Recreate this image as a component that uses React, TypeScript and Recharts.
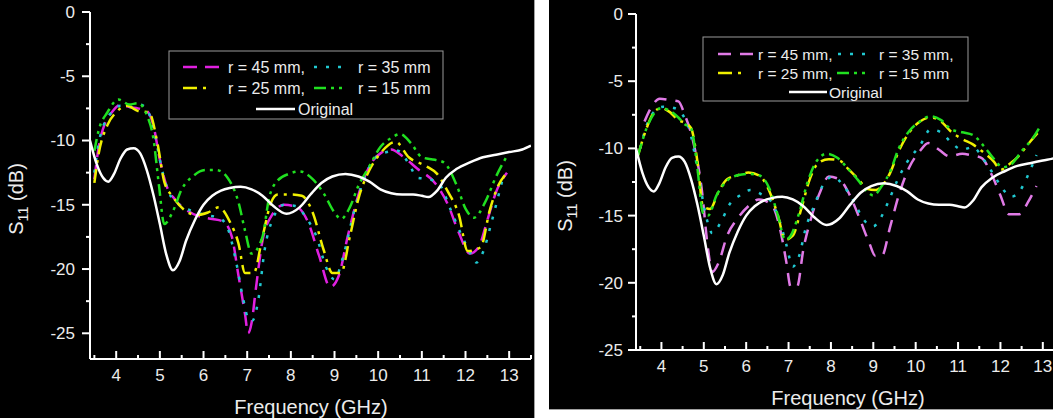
import React from 'react';
import { LineChart, Line, XAxis, YAxis } from 'recharts';

// ---------- shared data ----------
const origFreq = [3.4, 3.55, 3.7, 3.82, 3.95, 4.1, 4.25, 4.4, 4.55, 4.7, 4.85, 5.0, 5.15, 5.3, 5.45, 5.6, 5.8, 6.0, 6.2, 6.4, 6.6, 6.85, 7.1, 7.35, 7.6, 7.9, 8.2, 8.45, 8.7, 8.95, 9.25, 9.55, 9.8, 10.05, 10.3, 10.55, 10.8, 11.0, 11.15, 11.35, 11.55, 11.8, 12.1, 12.4, 12.7, 13.0, 13.3, 13.5];
const origVal = [-10.0, -11.8, -12.9, -13.2, -12.6, -11.4, -10.7, -10.6, -11.0, -12.3, -14.2, -16.5, -18.9, -20.1, -19.4, -17.8, -16.2, -15.0, -14.3, -13.9, -13.7, -13.6, -13.8, -14.3, -15.1, -15.7, -15.2, -14.2, -13.3, -12.8, -12.6, -12.8, -13.2, -13.8, -14.1, -14.2, -14.2, -14.3, -14.4, -13.9, -12.9, -12.2, -11.7, -11.3, -11.1, -10.9, -10.7, -10.4];

const xTicks = [3.5, 4, 4.5, 5, 5.5, 6, 6.5, 7, 7.5, 8, 8.5, 9, 9.5, 10, 10.5, 11, 11.5, 12, 12.5, 13, 13.5];
const yTicks = [0, -2.5, -5, -7.5, -10, -12.5, -15, -17.5, -20, -22.5, -25];

const seriesNames = ['r = 45 mm,', 'r = 35 mm', 'r = 25 mm,', 'r = 15 mm', 'Original'];
const seriesNamesRight = ['r = 45 mm,', 'r = 35 mm,', 'r = 25 mm,', 'r = 15 mm', 'Original'];
const xTitle = 'Frequency (GHz)';

// ---------- left panel data ----------
const L45Freq = [3.5, 3.6, 3.75, 3.9, 4.1, 4.3, 4.5, 4.7, 4.85, 5.0, 5.15, 5.35, 5.6, 5.9, 6.2, 6.45, 6.65, 6.8, 6.95, 7.02, 7.1, 7.2, 7.35, 7.55, 7.85, 8.15, 8.4, 8.65, 8.9, 9.1, 9.3, 9.55, 9.8, 10.05, 10.3, 10.55, 10.9, 11.3, 11.6, 11.85, 12.1, 12.3, 12.5, 12.7, 12.95];
const L45Val = [-13.0, -10.5, -8.6, -7.8, -7.2, -7.4, -7.5, -7.7, -8.8, -11.5, -13.5, -14.6, -15.4, -15.9, -16.1, -16.3, -17.5, -20.5, -23.5, -25.0, -24.2, -21.5, -17.8, -15.9, -15.0, -15.2, -16.4, -19.0, -21.4, -20.5, -17.5, -14.2, -12.0, -11.0, -10.7, -11.2, -12.2, -13.3, -15.0, -17.2, -18.8, -18.3, -16.2, -14.0, -12.5];

const L35Freq = [3.5, 3.6, 3.75, 3.9, 4.1, 4.3, 4.55, 4.75, 4.9, 5.05, 5.2, 5.45, 5.75, 6.05, 6.35, 6.55, 6.75, 6.9, 7.05, 7.12, 7.25, 7.4, 7.6, 7.85, 8.1, 8.35, 8.6, 8.8, 9.0, 9.2, 9.45, 9.7, 9.95, 10.2, 10.45, 10.7, 10.9, 11.15, 11.4, 11.65, 11.9, 12.1, 12.25, 12.4, 12.6, 12.85];
const L35Val = [-12.5, -10.2, -8.5, -7.8, -7.3, -7.4, -7.2, -7.9, -9.8, -12.3, -14.0, -15.0, -15.5, -15.8, -16.0, -16.8, -19.5, -22.2, -24.0, -24.0, -22.5, -18.5, -16.0, -15.0, -15.1, -16.0, -17.6, -19.8, -20.8, -19.0, -15.5, -12.8, -11.3, -10.9, -10.8, -11.8, -12.9, -13.0, -13.4, -15.3, -17.3, -18.7, -19.5, -18.7, -16.3, -13.0];

const L25Freq = [3.5, 3.6, 3.8, 4.0, 4.25, 4.5, 4.75, 4.95, 5.1, 5.3, 5.6, 5.85, 6.1, 6.35, 6.6, 6.8, 6.95, 7.15, 7.35, 7.55, 7.7, 8.0, 8.25, 8.5, 8.75, 8.95, 9.15, 9.35, 9.55, 9.8, 10.05, 10.4, 10.7, 11.1, 11.35, 11.6, 11.85, 12.05, 12.35, 12.55, 12.75, 12.9];
const L25Val = [-13.3, -11.0, -8.8, -7.8, -7.3, -7.7, -7.8, -10.3, -13.2, -14.4, -15.5, -15.8, -15.6, -15.2, -16.3, -18.0, -20.3, -20.3, -17.5, -14.8, -14.2, -14.2, -14.3, -15.6, -18.5, -20.3, -20.3, -17.5, -14.5, -12.3, -11.0, -10.1, -11.3, -12.0, -12.6, -14.0, -15.8, -18.6, -18.3, -15.5, -13.5, -12.7];

const L15Freq = [3.5, 3.6, 3.8, 4.05, 4.3, 4.5, 4.7, 4.85, 4.98, 5.1, 5.3, 5.5, 5.75, 6.05, 6.3, 6.55, 6.8, 6.95, 7.1, 7.35, 7.5, 7.7, 7.95, 8.2, 8.5, 8.75, 9.0, 9.15, 9.35, 9.55, 9.8, 10.05, 10.3, 10.5, 10.75, 11.0, 11.3, 11.5, 11.8, 12.0, 12.2, 12.45, 12.7, 12.95];
const L15Val = [-10.8, -9.2, -7.8, -6.8, -7.2, -7.1, -8.0, -9.8, -13.5, -16.5, -15.5, -13.8, -12.8, -12.3, -12.3, -12.9, -14.8, -17.0, -18.8, -17.5, -14.5, -13.1, -12.6, -12.4, -13.0, -14.1, -15.6, -16.1, -15.2, -13.5, -12.0, -10.5, -9.8, -9.5, -10.2, -11.3, -11.5, -11.7, -13.5, -15.3, -16.0, -14.8, -12.8, -11.2];

// ---------- right panel data ----------
const R45Freq = [3.6, 3.75, 3.96, 4.2, 4.4, 4.55, 4.75, 4.95, 5.1, 5.2, 5.35, 5.55, 5.8, 6.05, 6.3, 6.6, 6.8, 6.95, 7.05, 7.2, 7.35, 7.55, 7.75, 7.95, 8.2, 8.4, 8.65, 8.9, 9.05, 9.2, 9.4, 9.6, 9.85, 10.1, 10.3, 10.55, 10.8, 11.1, 11.3, 11.55, 11.8, 12.0, 12.2, 12.45, 12.65, 12.85];
const R45Val = [-8.0, -7.0, -6.3, -6.4, -6.5, -7.5, -9.5, -13.0, -17.5, -19.2, -18.5, -16.5, -15.2, -14.3, -13.8, -14.2, -16.0, -18.5, -20.3, -20.3, -17.5, -15.0, -13.2, -12.1, -12.3, -13.2, -15.0, -17.0, -18.0, -18.0, -15.8, -13.5, -11.4, -10.2, -9.6, -10.1, -10.6, -10.4, -10.5, -10.7, -12.0, -13.5, -14.9, -14.9, -14.0, -12.8];

const R35Freq = [3.5, 3.65, 3.85, 4.05, 4.3, 4.5, 4.65, 4.85, 5.05, 5.2, 5.4, 5.6, 5.85, 6.1, 6.35, 6.6, 6.8, 6.95, 7.1, 7.25, 7.4, 7.6, 7.8, 8.05, 8.3, 8.55, 8.75, 9.0, 9.15, 9.35, 9.55, 9.8, 10.1, 10.35, 10.6, 10.85, 11.1, 11.35, 11.6, 11.85, 12.05, 12.25, 12.45, 12.65, 12.85];
const R35Val = [-10.0, -8.3, -7.2, -6.9, -7.0, -7.5, -8.5, -11.5, -15.0, -16.3, -15.5, -14.2, -13.5, -13.1, -13.4, -14.0, -15.5, -17.2, -18.8, -18.0, -16.0, -14.3, -12.8, -12.1, -12.8, -14.0, -15.2, -15.8, -15.3, -14.0, -12.5, -11.0, -9.8, -8.6, -8.8, -9.6, -10.1, -9.9, -10.8, -12.0, -13.0, -13.6, -13.2, -12.0, -10.5];

const R25Freq = [3.45, 3.65, 3.85, 4.0, 4.2, 4.4, 4.55, 4.7, 4.85, 4.98, 5.15, 5.35, 5.55, 5.8, 6.05, 6.3, 6.55, 6.75, 6.92, 7.1, 7.3, 7.5, 7.7, 7.95, 8.2, 8.4, 8.65, 8.85, 9.05, 9.2, 9.4, 9.6, 9.85, 10.1, 10.35, 10.6, 10.85, 11.1, 11.35, 11.6, 11.85, 12.0, 12.2, 12.45, 12.7, 12.95];
const R25Val = [-10.5, -8.5, -7.2, -7.0, -7.3, -7.9, -8.1, -8.5, -11.0, -14.3, -14.5, -13.2, -12.3, -12.0, -11.8, -12.0, -13.2, -15.0, -16.8, -16.5, -14.5, -12.3, -11.1, -10.8, -10.9, -11.5, -12.3, -13.0, -13.1, -12.8, -11.8, -10.2, -8.8, -8.0, -7.7, -8.0, -8.8, -9.3, -9.7, -10.3, -11.0, -11.6, -11.2, -10.5, -9.5, -8.6];

const R15Freq = [3.45, 3.65, 3.85, 4.0, 4.2, 4.4, 4.55, 4.7, 4.85, 4.98, 5.1, 5.3, 5.55, 5.8, 6.05, 6.3, 6.55, 6.75, 6.92, 7.05, 7.25, 7.45, 7.65, 7.9, 8.15, 8.4, 8.65, 8.85, 9.0, 9.2, 9.4, 9.6, 9.85, 10.1, 10.35, 10.6, 10.85, 11.1, 11.35, 11.6, 11.85, 12.05, 12.25, 12.5, 12.75, 12.95];
const R15Val = [-10.5, -8.5, -7.3, -7.0, -7.2, -7.7, -8.2, -8.5, -11.5, -14.8, -15.0, -13.5, -12.4, -12.0, -11.9, -12.0, -13.0, -15.0, -16.8, -16.5, -14.8, -12.5, -11.0, -10.4, -10.7, -11.5, -12.4, -13.2, -13.5, -12.8, -11.7, -10.0, -8.7, -8.0, -7.6, -7.9, -8.6, -8.8, -9.0, -9.8, -10.8, -11.4, -11.2, -10.2, -9.3, -8.3];

// ---------- styling ----------
const FONT = '"Liberation Sans", Arial, Helvetica, sans-serif';
const TXT = '#ececec';

type Style = { color: string; dash?: string };
const leftStyles: Style[] = [
  { color: '#e020e0', dash: '14 8' },
  { color: '#20c8d0', dash: '3 9' },
  { color: '#f0f000', dash: '14 6 3 6' },
  { color: '#20e020', dash: '12 5 3 5 3 5' },
  { color: '#ffffff' },
];
const rightStyles: Style[] = [
  { color: '#e07ae6', dash: '13 9' },
  { color: '#20c8d0', dash: '3 9' },
  { color: '#f0f000', dash: '14 6 3 6' },
  { color: '#20e020', dash: '12 5 3 5 3 5' },
  { color: '#ffffff' },
];

const zip = (f: number[], v: number[]) => f.map((x, i) => ({ f: x, v: v[i] }));

const XTick = (props: any) => {
  const { x, y, payload } = props;
  const v = payload.value as number;
  const major = Math.abs(v - Math.round(v)) < 1e-6;
  return (
    <g>
      <line x1={x} x2={x} y1={y} y2={y - (major ? 8 : 4)} stroke="#ffffff" strokeWidth={2} />
      {major && (
        <text x={x} y={y + 22} textAnchor="middle" fill={TXT} fontSize={17} fontFamily={FONT}>
          {v}
        </text>
      )}
    </g>
  );
};

const makeYTick = (labelGap: number) => (props: any) => {
  const { x, y, payload } = props;
  const v = payload.value as number;
  const major = Math.abs(v / 5 - Math.round(v / 5)) < 1e-6;
  return (
    <g>
      <line x1={x} x2={x - (major ? 8 : 4)} y1={y} y2={y} stroke="#ffffff" strokeWidth={2} />
      {major && (
        <text x={x - labelGap} y={y} dy="0.35em" textAnchor="end" fill={TXT} fontSize={17} fontFamily={FONT}>
          {v === 0 ? '0' : v}
        </text>
      )}
    </g>
  );
};

type LegendItem = { x1: number; x2: number; y: number; tx: number; label: string; style: Style };

const LegendBox = ({ box, items, fontSize }: { box: [number, number, number, number]; items: LegendItem[]; fontSize: number }) => (
  <g>
    <rect x={box[0]} y={box[1]} width={box[2]} height={box[3]} fill="#000" stroke="#9a9a9a" strokeWidth={1} />
    {items.map((it, i) => (
      <g key={i}>
        <line x1={it.x1} x2={it.x2} y1={it.y} y2={it.y} stroke={it.style.color} strokeWidth={2.5} strokeDasharray={it.style.dash} />
        <text x={it.tx} y={it.y} dy="0.36em" fill={TXT} fontSize={fontSize} fontFamily={FONT}>
          {it.label}
        </text>
      </g>
    ))}
  </g>
);

type PanelProps = {
  left: number;
  width: number;
  height: number;
  chartWidth: number;
  margin: { top: number; right: number; bottom: number; left: number };
  yWidth: number;
  xHeight: number;
  yDomain: [number, number];
  series: { data: { f: number; v: number }[]; name: string; style: Style }[];
  yLabelGap: number;
  overlay: React.ReactNode;
};

const Panel = (p: PanelProps) => (
  <div
    style={{
      position: 'absolute',
      left: p.left,
      top: 0,
      width: p.width,
      height: p.height,
      background: '#000',
      overflow: 'hidden',
    }}
  >
    <LineChart width={p.chartWidth} height={p.height} margin={p.margin}>
      <XAxis
        dataKey="f"
        type="number"
        domain={[3.4, 13.5]}
        ticks={xTicks}
        interval={0}
        allowDataOverflow
        height={p.xHeight}
        tickSize={0}
        tickMargin={0}
        tickLine={false}
        axisLine={{ stroke: '#ffffff', strokeWidth: 2 }}
        tick={<XTick />}
      />
      <YAxis
        dataKey="v"
        type="number"
        domain={p.yDomain}
        ticks={yTicks}
        interval={0}
        allowDataOverflow
        width={p.yWidth}
        tickSize={0}
        tickMargin={0}
        tickLine={false}
        axisLine={{ stroke: '#ffffff', strokeWidth: 2 }}
        tick={makeYTick(p.yLabelGap)}
      />
      {p.series.map((s) => (
        <Line
          key={s.name}
          data={s.data}
          dataKey="v"
          name={s.name}
          type="monotone"
          dot={false}
          activeDot={false}
          stroke={s.style.color}
          strokeWidth={2.5}
          strokeDasharray={s.style.dash}
          isAnimationActive={false}
        />
      ))}
    </LineChart>
    <svg
      width={p.width}
      height={p.height}
      style={{ position: 'absolute', left: 0, top: 0, pointerEvents: 'none' }}
    >
      {p.overlay}
    </svg>
  </div>
);

const S11Label = ({ x, y, size }: { x: number; y: number; size: number }) => (
  <text
    transform={`translate(${x},${y}) rotate(-90)`}
    textAnchor="middle"
    dy="0.35em"
    fill={TXT}
    fontSize={size}
    fontFamily={FONT}
  >
    S<tspan fontSize={size * 0.72} dy={5}>11</tspan>
    <tspan dy={-5}> (dB)</tspan>
  </text>
);

export default function App() {
  const leftSeries = [
    { data: zip(L45Freq, L45Val), name: seriesNames[0], style: leftStyles[0] },
    { data: zip(L35Freq, L35Val), name: seriesNames[1], style: leftStyles[1] },
    { data: zip(L25Freq, L25Val), name: seriesNames[2], style: leftStyles[2] },
    { data: zip(L15Freq, L15Val), name: seriesNames[3], style: leftStyles[3] },
    { data: zip(origFreq, origVal), name: seriesNames[4], style: leftStyles[4] },
  ];
  const rightSeries = [
    { data: zip(R45Freq, R45Val), name: seriesNamesRight[0], style: rightStyles[0] },
    { data: zip(R35Freq, R35Val), name: seriesNamesRight[1], style: rightStyles[1] },
    { data: zip(R25Freq, R25Val), name: seriesNamesRight[2], style: rightStyles[2] },
    { data: zip(R15Freq, R15Val), name: seriesNamesRight[3], style: rightStyles[3] },
    { data: zip(origFreq, origVal), name: seriesNamesRight[4], style: rightStyles[4] },
  ];

  const RX = 549;
  const leftLegend: LegendItem[] = [
    { x1: 183, x2: 221, y: 67, tx: 228, label: seriesNames[0], style: leftStyles[0] },
    { x1: 314, x2: 347, y: 67, tx: 358, label: seriesNames[1], style: leftStyles[1] },
    { x1: 183, x2: 210, y: 88, tx: 228, label: seriesNames[2], style: leftStyles[2] },
    { x1: 314, x2: 347, y: 88, tx: 358, label: seriesNames[3], style: leftStyles[3] },
    { x1: 256, x2: 295, y: 109, tx: 298, label: seriesNames[4], style: leftStyles[4] },
  ];
  const rightLegend: LegendItem[] = [
    { x1: 718 - RX, x2: 754 - RX, y: 54, tx: 758 - RX, label: seriesNamesRight[0], style: rightStyles[0] },
    { x1: 838 - RX, x2: 870 - RX, y: 54, tx: 879 - RX, label: seriesNamesRight[1], style: rightStyles[1] },
    { x1: 718 - RX, x2: 745 - RX, y: 73, tx: 758 - RX, label: seriesNamesRight[2], style: rightStyles[2] },
    { x1: 837 - RX, x2: 868 - RX, y: 73, tx: 879 - RX, label: seriesNamesRight[3], style: rightStyles[3] },
    { x1: 789 - RX, x2: 827 - RX, y: 92, tx: 829 - RX, label: seriesNamesRight[4], style: rightStyles[4] },
  ];

  return (
    <div
      style={{
        position: 'absolute',
        left: 0,
        top: 0,
        width: 1053,
        height: 418,
        background: '#ffffff',
        overflow: 'hidden',
      }}
    >
      <div style={{ position: 'absolute', left: 534, top: 0, width: 1, height: 418, background: '#a0a0a0' }} />
      <Panel
        left={0}
        width={534}
        height={418}
        chartWidth={534}
        margin={{ top: 12, right: 3, bottom: 0, left: 0 }}
        yWidth={90}
        xHeight={59}
        yDomain={[-27, 0]}
        series={leftSeries}
        yLabelGap={15}
        overlay={
          <g>
            <LegendBox box={[169, 51, 274, 68]} items={leftLegend} fontSize={16} />
            <S11Label x={16} y={199} size={20} />
            <text x={311} y={414} textAnchor="middle" fill={TXT} fontSize={20} fontFamily={FONT}>
              {xTitle}
            </text>
          </g>
        }
      />
      <Panel
        left={RX}
        width={1053 - RX}
        height={409}
        chartWidth={520}
        margin={{ top: 14, right: 5, bottom: 0, left: 0 }}
        yWidth={87}
        xHeight={59}
        yDomain={[-25, 0]}
        series={rightSeries}
        yLabelGap={13}
        overlay={
          <g>
            <LegendBox box={[703 - RX, 37, 265, 64]} items={rightLegend} fontSize={15.5} />
            <S11Label x={565 - RX} y={196} size={20} />
            <text x={848 - RX} y={405} textAnchor="middle" fill={TXT} fontSize={20} fontFamily={FONT}>
              {xTitle}
            </text>
          </g>
        }
      />
      <div style={{ position: 'absolute', left: RX, top: 409, width: 1053 - RX, height: 1, background: '#a0a0a0' }} />
    </div>
  );
}
